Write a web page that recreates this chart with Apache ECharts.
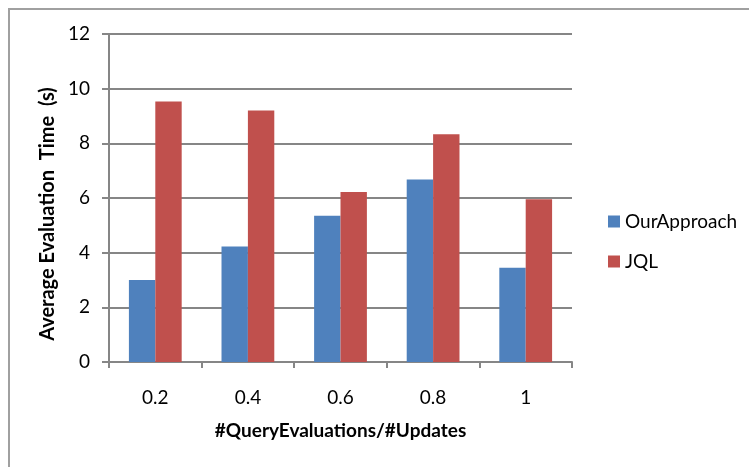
<!DOCTYPE html>
<html>
<head>
<meta charset="utf-8">
<script src="https://cdn.jsdelivr.net/npm/echarts@6/dist/echarts.min.js"></script>
<style>
html,body{margin:0;padding:0;background:#fff;}
#chart{width:749px;height:467px;}
</style>
</head>
<body>
<div id="chart"></div>
<script>
var categories = ['0.2', '0.4', '0.6', '0.8', '1'];
var ourApproach = [3.0, 4.23, 5.35, 6.68, 3.45];
var jql = [9.53, 9.2, 6.22, 8.33, 5.95];
var yTicks = [0, 2, 4, 6, 8, 10, 12];
var yTitle = 'Average Evaluation  Time  (s)';
var xTitle = '#QueryEvaluations/#Updates';

var FONT = 'Lato, "Open Sans", sans-serif';
var chart = echarts.init(document.getElementById('chart'));
chart.setOption({
  backgroundColor: '#fff',
  animation: false,
  textStyle: { fontFamily: FONT, color: '#000' },
  graphic: [{
    type: 'rect',
    shape: { x: 9, y: 9, width: 800, height: 500 },
    style: { fill: 'none', stroke: '#a0a0a0', lineWidth: 2 },
    silent: true
  }, {
    type: 'text',
    x: 48,
    y: 214,
    rotation: Math.PI / 2,
    style: {
      text: yTitle,
      fontFamily: FONT,
      fontSize: 20,
      fontWeight: 'bold',
      fill: '#000',
      align: 'center',
      verticalAlign: 'middle'
    },
    silent: true
  }],
  grid: { left: 109, top: 34, width: 463, height: 328 },
  legend: {
    orient: 'vertical',
    left: 603,
    top: 207,
    itemWidth: 12,
    itemHeight: 12,
    itemGap: 21,
    icon: 'rect',
    textStyle: { fontFamily: FONT, fontSize: 19, color: '#000' },
    data: ['OurApproach', 'JQL']
  },
  xAxis: {
    type: 'category',
    data: categories,
    name: xTitle,
    nameLocation: 'middle',
    nameGap: 59,
    nameTextStyle: { fontFamily: FONT, fontSize: 19, fontWeight: 'bold', color: '#000' },
    axisLine: { lineStyle: { color: '#868686', width: 2 } },
    axisTick: { show: true, length: 6, lineStyle: { color: '#868686', width: 2 } },
    axisLabel: { fontFamily: FONT, fontSize: 19, color: '#000', margin: 26 }
  },
  yAxis: {
    type: 'value',
    min: yTicks[0],
    max: yTicks[yTicks.length - 1],
    interval: 2,
    axisLine: { show: true, lineStyle: { color: '#868686', width: 2 } },
    axisTick: { show: true, length: 7, lineStyle: { color: '#868686', width: 2 } },
    axisLabel: { fontFamily: FONT, fontSize: 19, color: '#000', margin: 19 },
    splitLine: { show: true, lineStyle: { color: '#868686', width: 2 } }
  },
  series: [
    {
      name: 'OurApproach',
      type: 'bar',
      data: ourApproach,
      barGap: '0%',
      barCategoryGap: '43%',
      itemStyle: { color: '#4F81BD' }
    },
    {
      name: 'JQL',
      type: 'bar',
      data: jql,
      barGap: '0%',
      barCategoryGap: '43%',
      itemStyle: { color: '#C0504D' }
    }
  ]
});
</script>
</body>
</html>
